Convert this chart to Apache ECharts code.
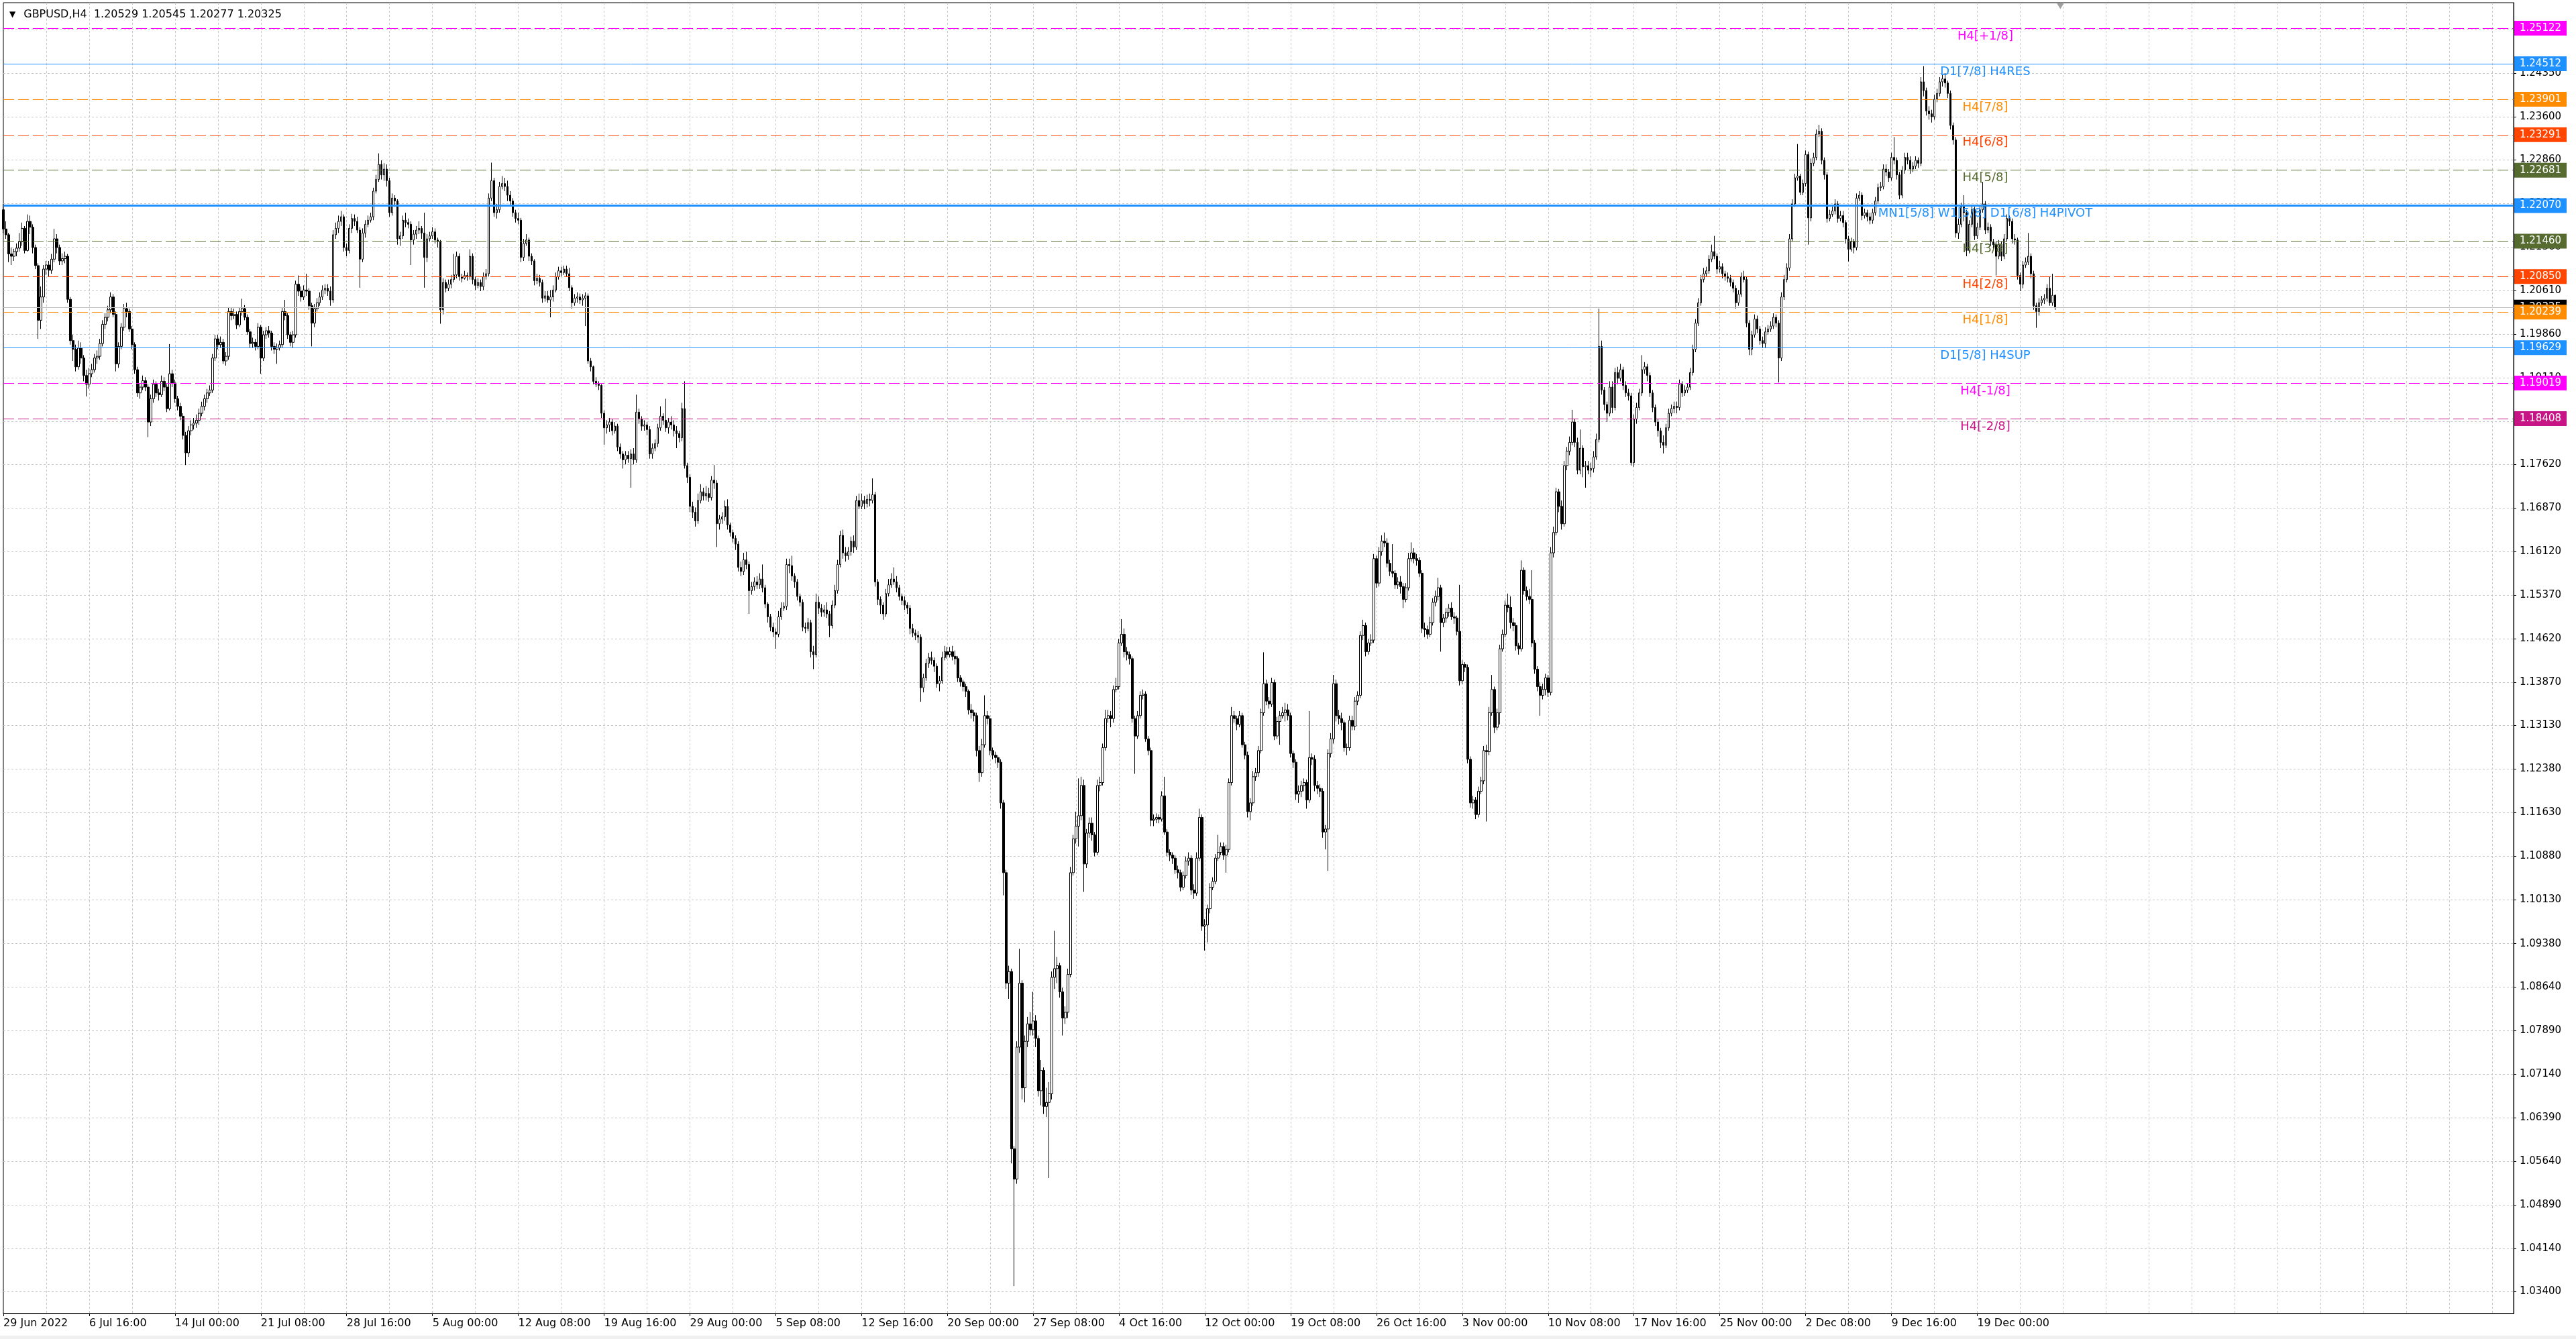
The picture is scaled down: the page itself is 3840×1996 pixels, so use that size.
<!DOCTYPE html>
<html><head><meta charset="utf-8">
<script src="https://cdn.jsdelivr.net/npm/echarts@6/dist/echarts.min.js"></script>
<style>html,body{margin:0;padding:0;background:#fff;overflow:hidden}#chart{width:3840px;height:1996px}</style>
</head><body><div id="chart"></div>
<script>
// ---------------- DATA ----------------
const symbolName = 'GBPUSD';
const timeframe = 'H4';
const PRICE_UNIT = 10000; // candle rows below are [open, high, low, close] in 1/10000 units
const barsJun29toJul28 = [
[12200,12210,12160,12167],[12167,12180,12150,12157],[12157,12160,12110,12124],[12124,12135,12105,12120],[12120,12133,12112,12128],[12128,12142,12120,12134],[12134,12160,12128,12145],[12145,12178,12138,12168],[12168,12172,12125,12130],[12130,12192,12128,12180],
[12180,12190,12158,12170],[12170,12175,12125,12135],[12135,12140,12098,12104],[12104,12108,11978,12010],[12010,12068,11995,12050],[12050,12105,12040,12098],[12098,12112,12088,12105],[12105,12112,12085,12096],[12096,12124,12090,12115],[12115,12167,12110,12150],
[12150,12158,12125,12135],[12135,12140,12105,12112],[12112,12125,12105,12116],[12116,12128,12108,12120],[12120,12124,12040,12046],[12046,12050,11968,11975],[11975,11985,11940,11960],[11960,11968,11922,11930],[11930,11975,11925,11962],[11962,11972,11935,11945],
[11945,11950,11905,11915],[11915,11925,11879,11900],[11900,11928,11892,11918],[11918,11935,11912,11925],[11925,11952,11920,11945],[11945,11958,11935,11948],[11948,11978,11942,11970],[11970,12010,11965,12003],[12003,12022,11995,12015],[12015,12035,12008,12028],
[12028,12058,12022,12050],[12050,12055,12015,12020],[12020,12025,11922,11935],[11935,11972,11928,11965],[11965,12005,11960,11998],[11998,12038,11992,12030],[12030,12040,12015,12025],[12025,12030,11990,11995],[11995,12000,11960,11968],[11968,11972,11918,11925],
[11925,11930,11878,11885],[11885,11902,11875,11895],[11895,11915,11890,11906],[11906,11912,11888,11895],[11895,11900,11809,11835],[11835,11882,11828,11875],[11875,11908,11868,11900],[11900,11905,11878,11885],[11885,11892,11872,11882],[11882,11915,11878,11905],
[11905,11912,11888,11895],[11895,11900,11852,11858],[11858,11969,11855,11918],[11918,11925,11895,11902],[11902,11908,11868,11875],[11875,11880,11855,11862],[11862,11868,11838,11845],[11845,11850,11805,11812],[11812,11818,11761,11782],[11782,11828,11775,11820],
[11820,11838,11812,11830],[11830,11842,11822,11833],[11833,11848,11825,11838],[11838,11858,11830,11850],[11850,11870,11845,11862],[11862,11882,11855,11875],[11875,11892,11868,11885],[11885,11898,11880,11890],[11890,11952,11885,11945],[11945,11985,11940,11978],
[11978,11985,11960,11968],[11968,11982,11962,11972],[11972,11978,11935,11940],[11940,11955,11932,11948],[11948,12032,11942,12025],[12025,12032,12010,12018],[12018,12030,12012,12020],[12020,12025,11995,12002],[12002,12032,11998,12025],[12025,12047,12018,12030],
[12030,12036,12010,12015],[12015,12020,11985,11990],[11990,11995,11962,11970],[11970,11980,11962,11972],[11972,11978,11958,11965],[11965,12005,11960,11998],[11998,12002,11918,11945],[11945,11992,11940,11985],[11985,11998,11978,11992],[11992,12000,11980,11988],
[11988,11992,11958,11965],[11965,11972,11952,11960],[11960,11970,11935,11963],[11963,11975,11958,11968],[11968,12032,11962,12025],[12025,12045,12010,12018],[12018,12022,11978,11985],[11985,11990,11965,11972],[11972,11992,11962,11985],[11985,12078,11980,12072],
[12072,12087,12052,12060],[12060,12068,12042,12050],[12050,12070,12045,12062],[12062,12090,12052,12060],[12060,12065,12028,12035],[12035,12040,11965,12005],[12005,12038,11998,12030],[12030,12048,12025,12040],[12040,12058,12035,12050],[12050,12070,12045,12062],
[12062,12072,12055,12065],[12065,12072,12052,12060],[12060,12068,12035,12045],[12045,12165,12040,12157],[12157,12178,12150,12168],[12168,12190,12160,12180],[12180,12198,12172,12188],[12188,12192,12128,12135]
];
const barsJul28toAug29 = [
[12135,12142,12120,12130],[12130,12175,12125,12168],[12168,12193,12160,12185],[12185,12192,12172,12180],[12180,12188,12160,12165],[12165,12170,12066,12115],[12115,12168,12110,12160],[12160,12182,12152,12175],[12175,12190,12170,12182],[12182,12195,12178,12188],
[12188,12238,12182,12232],[12232,12260,12228,12252],[12252,12297,12248,12278],[12278,12285,12252,12260],[12260,12280,12250,12270],[12270,12278,12240,12250],[12250,12255,12188,12195],[12195,12228,12190,12220],[12220,12225,12205,12215],[12215,12218,12140,12150],
[12150,12162,12138,12155],[12155,12190,12150,12182],[12182,12195,12170,12178],[12178,12185,12168,12175],[12175,12180,12105,12148],[12148,12165,12140,12158],[12158,12172,12150,12165],[12165,12180,12158,12168],[12168,12172,12150,12160],[12160,12195,12066,12118],
[12118,12158,12110,12150],[12150,12162,12145,12155],[12155,12170,12150,12162],[12162,12168,12142,12148],[12148,12152,12135,12145],[12145,12148,12004,12028],[12028,12082,12020,12075],[12075,12080,12058,12065],[12065,12080,12060,12072],[12072,12088,12065,12080],
[12080,12124,12075,12088],[12088,12128,12082,12120],[12120,12125,12078,12085],[12085,12090,12075,12082],[12082,12095,12080,12087],[12087,12092,12078,12085],[12085,12132,12080,12120],[12120,12125,12072,12080],[12080,12085,12062,12070],[12070,12082,12065,12075],
[12075,12080,12060,12068],[12068,12092,12062,12085],[12085,12098,12080,12090],[12090,12228,12085,12220],[12220,12281,12215,12250],[12250,12255,12188,12195],[12195,12210,12185,12200],[12200,12248,12195,12240],[12240,12258,12235,12245],[12245,12255,12232,12240],
[12240,12250,12215,12225],[12225,12232,12208,12215],[12215,12220,12188,12195],[12195,12200,12178,12185],[12185,12195,12175,12182],[12182,12186,12110,12118],[12118,12150,12112,12142],[12142,12158,12138,12148],[12148,12152,12112,12120],[12120,12125,12105,12112],
[12112,12115,12070,12078],[12078,12090,12072,12082],[12082,12088,12068,12075],[12075,12080,12040,12048],[12048,12060,12042,12052],[12052,12060,12040,12045],[12045,12062,12015,12050],[12050,12070,12042,12062],[12062,12092,12058,12085],[12085,12102,12080,12095],
[12095,12102,12085,12092],[12092,12104,12088,12098],[12098,12104,12085,12090],[12090,12100,12060,12066],[12066,12070,12030,12040],[12040,12055,12035,12048],[12048,12058,12040,12050],[12050,12056,12038,12045],[12045,12055,12035,12048],[12048,12058,12000,12052],
[12052,12056,11935,11940],[11940,11945,11922,11930],[11930,11932,11900,11905],[11905,11912,11895,11900],[11900,11905,11890,11898],[11898,11900,11842,11850],[11850,11855,11796,11825],[11825,11838,11815,11830],[11830,11842,11818,11835],[11835,11840,11812,11820],
[11820,11835,11815,11828],[11828,11832,11785,11792],[11792,11798,11772,11780],[11780,11785,11755,11770],[11770,11785,11762,11778],[11778,11785,11765,11772],[11772,11788,11722,11780],[11780,11790,11762,11770],[11770,11882,11765,11852],[11852,11858,11832,11840],
[11840,11845,11820,11828],[11828,11838,11820,11830],[11830,11835,11812,11822],[11822,11828,11772,11780],[11780,11798,11772,11790],[11790,11805,11785,11798],[11798,11832,11792,11825],[11825,11862,11820,11845],[11845,11850,11830,11838],[11838,11875,11818,11825],
[11825,11842,11815,11835],[11835,11845,11822,11830],[11830,11838,11810,11820],[11820,11828,11790,11815],[11815,11820,11800,11808],[11808,11868,11802,11858],[11858,11905,11755,11760],[11760,11765,11730,11740]
];
const barsAug29toSep27 = [
[11740,11745,11680,11690],[11690,11698,11670,11680],[11680,11688,11655,11665],[11665,11712,11660,11700],[11700,11728,11695,11715],[11715,11722,11700,11708],[11708,11725,11700,11712],[11712,11722,11698,11705],[11705,11742,11700,11735],[11735,11761,11720,11730],
[11730,11735,11620,11660],[11660,11675,11650,11668],[11668,11680,11660,11672],[11672,11700,11665,11690],[11690,11702,11650,11658],[11658,11662,11638,11645],[11645,11650,11628,11635],[11635,11640,11615,11625],[11625,11630,11578,11585],[11585,11595,11570,11578],
[11578,11610,11572,11598],[11598,11612,11582,11590],[11590,11595,11505,11545],[11545,11560,11538,11552],[11552,11568,11545,11560],[11560,11570,11548,11555],[11555,11575,11548,11565],[11565,11590,11542,11550],[11550,11555,11515,11522],[11522,11525,11490,11500],
[11500,11505,11475,11482],[11482,11490,11465,11474],[11474,11480,11445,11470],[11470,11510,11465,11500],[11500,11525,11495,11515],[11515,11525,11510,11518],[11518,11600,11512,11590],[11590,11600,11575,11588],[11588,11605,11562,11570],[11570,11575,11550,11560],
[11560,11565,11528,11535],[11535,11540,11518,11525],[11525,11530,11475,11482],[11482,11490,11472,11480],[11480,11498,11475,11490],[11490,11495,11430,11440],[11440,11450,11410,11435],[11435,11540,11430,11525],[11525,11535,11505,11515],[11515,11522,11500,11508],
[11508,11520,11500,11512],[11512,11525,11498,11505],[11505,11510,11465,11485],[11485,11528,11480,11520],[11520,11555,11515,11545],[11545,11598,11540,11590],[11590,11648,11585,11640],[11640,11650,11600,11610],[11610,11620,11595,11605],[11605,11620,11598,11612],
[11612,11638,11605,11630],[11630,11640,11610,11620],[11620,11708,11615,11700],[11700,11712,11685,11690],[11690,11712,11685,11700],[11700,11708,11685,11695],[11695,11710,11688,11702],[11702,11712,11690,11700],[11700,11738,11695,11710],[11710,11715,11552,11560],
[11560,11565,11520,11530],[11530,11535,11505,11520],[11520,11525,11495,11505],[11505,11548,11500,11540],[11540,11565,11535,11555],[11555,11575,11550,11565],[11565,11585,11555,11560],[11560,11570,11542,11550],[11550,11555,11528,11535],[11535,11540,11520,11528],
[11528,11535,11512,11520],[11520,11525,11505,11515],[11515,11520,11470,11480],[11480,11488,11465,11472],[11472,11478,11460,11468],[11468,11475,11455,11465],[11465,11470,11354,11378],[11378,11402,11370,11395],[11395,11428,11390,11420],[11420,11438,11412,11430],
[11430,11440,11418,11425],[11425,11430,11405,11415],[11415,11420,11378,11385],[11385,11398,11372,11390],[11390,11440,11385,11430],[11430,11450,11425,11440],[11440,11448,11428,11435],[11435,11448,11430,11440],[11440,11450,11425,11432],[11432,11442,11418,11428],
[11428,11432,11388,11395],[11395,11400,11380,11388],[11388,11392,11372,11380],[11380,11385,11362,11372],[11372,11375,11332,11340],[11340,11350,11325,11335],[11335,11340,11320,11330],[11330,11335,11260,11270],[11270,11278,11216,11232],[11232,11290,11225,11280],
[11280,11365,11275,11330],[11330,11338,11315,11325],[11325,11330,11262,11270],[11270,11275,11255,11262],[11262,11268,11248,11258],[11258,11262,11240,11250],[11250,11255,11170,11180],[11180,11185,11021,11060],[11060,11065,10860,10870],[10870,10900,10843,10890],
[10890,10895,10560,10585],[10585,10590,10349,10533],[10533,10770,10525,10760],[10760,10929,10750,10870],[10870,10875,10670,10690],[10690,10780,10665,10770],[10770,10812,10760,10800],[10800,10820,10780,10790]
];
const barsSep27toOct26 = [
[10790,10855,10780,10805],[10805,10815,10760,10775],[10775,10780,10675,10685],[10685,10738,10660,10720],[10720,10725,10645,10658],[10658,10690,10640,10665],[10665,10700,10535,10680],[10680,10890,10670,10880],[10880,10960,10860,10895],[10895,10915,10870,10900],
[10900,10905,10845,10855],[10855,10862,10780,10810],[10810,10830,10800,10820],[10820,10895,10810,10885],[10885,11070,10880,11060],[11060,11125,11055,11118],[11118,11165,11110,11140],[11140,11222,11105,11158],[11158,11225,11150,11210],[11210,11220,11027,11075],
[11075,11135,11068,11128],[11128,11155,11120,11145],[11145,11155,11115,11125],[11125,11130,11088,11095],[11095,11220,11090,11210],[11210,11225,11200,11215],[11215,11282,11210,11275],[11275,11340,11270,11325],[11325,11340,11318,11330],[11330,11338,11310,11325],
[11325,11382,11318,11375],[11375,11395,11370,11380],[11380,11462,11375,11455],[11455,11496,11450,11470],[11470,11480,11430,11440],[11440,11448,11425,11435],[11435,11440,11418,11428],[11428,11432,11318,11325],[11325,11330,11230,11295],[11295,11338,11290,11330],
[11330,11372,11325,11365],[11365,11375,11358,11367],[11367,11372,11285,11290],[11290,11295,11262,11270],[11270,11275,11140,11150],[11150,11160,11140,11152],[11152,11162,11145,11155],[11155,11160,11145,11152],[11152,11200,11148,11192],[11192,11225,11125,11130],
[11130,11135,11088,11095],[11095,11100,11080,11090],[11090,11095,11075,11085],[11085,11090,11058,11065],[11065,11072,11050,11060],[11060,11065,11028,11035],[11035,11062,11030,11055],[11055,11088,11050,11080],[11080,11095,11072,11085],[11085,11090,11022,11030],
[11030,11040,11015,11025],[11025,11095,11020,11085],[11085,11170,11080,11155],[11155,11160,10960,10968],[10968,10980,10926,10970],[10970,11005,10940,10998],[10998,11042,10990,11035],[11035,11052,11030,11045],[11045,11092,11040,11085],[11085,11125,11080,11095],
[11095,11112,11090,11105],[11105,11112,11082,11090],[11090,11108,11060,11100],[11100,11222,11095,11215],[11215,11345,11210,11330],[11330,11338,11318,11325],[11325,11330,11305,11315],[11315,11338,11310,11330],[11330,11335,11275,11280],[11280,11285,11255,11262],
[11262,11268,11155,11165],[11165,11188,11150,11180],[11180,11235,11175,11225],[11225,11240,11218,11232],[11232,11278,11225,11270],[11270,11342,11265,11335],[11335,11439,11330,11385],[11385,11392,11348,11355],[11355,11362,11342,11350],[11350,11395,11345,11387],
[11387,11392,11288,11295],[11295,11328,11290,11320],[11320,11338,11280,11330],[11330,11345,11325,11335],[11335,11352,11320,11340],[11340,11350,11322,11330],[11330,11335,11258,11265],[11265,11270,11240,11250],[11250,11255,11185,11195],[11195,11210,11180,11200],
[11200,11218,11190,11210],[11210,11222,11200,11215],[11215,11220,11170,11185],[11185,11338,11180,11258],[11258,11265,11245,11255],[11255,11262,11200,11210],[11210,11218,11195,11205],[11205,11212,11190,11200],[11200,11205,11120,11130],[11130,11142,11100,11135],
[11135,11272,11063,11265],[11265,11300,11258,11290],[11290,11400,11282,11385],[11385,11392,11320,11330],[11330,11340,11315,11325],[11325,11335,11305,11318],[11318,11322,11268,11275],[11275,11282,11262,11275],[11275,11330,11270,11322],[11322,11330,11305,11312],
[11312,11362,11305,11355],[11355,11372,11348,11365],[11365,11475,11360,11468],[11468,11495,11460,11485],[11485,11490,11432,11440],[11440,11462,11435,11455],[11455,11470,11450,11460],[11460,11608,11455,11600]
];
const barsOct26toNov25 = [
[11600,11605,11550,11558],[11558,11620,11552,11612],[11612,11640,11605,11630],[11630,11645,11620,11627],[11627,11635,11585,11592],[11592,11598,11570,11578],[11578,11625,11568,11575],[11575,11580,11548,11555],[11555,11568,11548,11560],[11560,11570,11540,11552],
[11552,11558,11515,11530],[11530,11558,11525,11550],[11550,11610,11545,11600],[11600,11628,11595,11610],[11610,11618,11592,11600],[11600,11608,11588,11597],[11597,11603,11568,11575],[11575,11580,11472,11480],[11480,11490,11465,11478],[11478,11485,11462,11470],
[11470,11500,11465,11490],[11490,11532,11485,11525],[11525,11545,11518,11535],[11535,11567,11528,11550],[11550,11555,11440,11490],[11490,11505,11482,11498],[11498,11515,11490,11508],[11508,11522,11500,11515],[11515,11525,11495,11500],[11500,11508,11488,11498],
[11498,11502,11468,11475],[11475,11555,11382,11390],[11390,11425,11385,11418],[11418,11422,11405,11413],[11413,11418,11248,11255],[11255,11260,11172,11180],[11180,11192,11170,11185],[11185,11190,11152,11160],[11160,11208,11155,11200],[11200,11225,11195,11218],
[11218,11278,11212,11270],[11270,11280,11148,11268],[11268,11345,11262,11335],[11335,11400,11330,11375],[11375,11380,11300,11310],[11310,11342,11305,11335],[11335,11452,11315,11445],[11445,11478,11440,11470],[11470,11528,11465,11520],[11520,11540,11508,11516],
[11516,11535,11480,11490],[11490,11498,11475,11485],[11485,11490,11442,11450],[11450,11455,11435,11445],[11445,11597,11440,11580],[11580,11585,11538,11545],[11545,11552,11528,11535],[11535,11548,11522,11530],[11530,11580,11448,11455],[11455,11460,11402,11410],
[11410,11415,11372,11380],[11380,11388,11330,11365],[11365,11385,11358,11375],[11375,11402,11365,11395],[11395,11400,11362,11370],[11370,11620,11365,11610],[11610,11655,11602,11645],[11645,11722,11640,11715],[11715,11720,11680,11690],[11690,11700,11650,11660],
[11660,11768,11655,11760],[11760,11792,11752,11785],[11785,11810,11778,11800],[11800,11856,11795,11835],[11835,11840,11792,11800],[11800,11808,11745,11752],[11752,11822,11745,11790],[11790,11795,11740,11758],[11758,11768,11722,11760],[11760,11768,11745,11752],
[11752,11765,11740,11755],[11755,11785,11748,11775],[11775,11815,11770,11805],[11805,12030,11800,11965],[11965,11975,11882,11890],[11890,11895,11855,11865],[11865,11870,11835,11850],[11850,11905,11845,11895],[11895,11905,11850,11860],[11860,11928,11855,11920],
[11920,11930,11900,11910],[11910,11935,11905,11925],[11925,11930,11890,11898],[11898,11905,11878,11885],[11885,11892,11872,11880],[11880,11885,11760,11765],[11765,11848,11758,11840],[11840,11868,11832,11860],[11860,11892,11855,11885],[11885,11950,11880,11925],
[11925,11938,11918,11930],[11930,11935,11905,11915],[11915,11920,11878,11885],[11885,11890,11852,11860],[11860,11865,11828,11835],[11835,11840,11810,11820],[11820,11825,11790,11800],[11800,11812,11781,11795],[11795,11832,11790,11825],[11825,11858,11820,11850],
[11850,11865,11845,11858],[11858,11870,11850,11862],[11862,11870,11850,11860],[11860,11908,11855,11900],[11900,11905,11878,11885],[11885,11898,11880,11890],[11890,11902,11885,11895],[11895,11928,11890,11920],[11920,11968,11915,11960],[11960,12012,11955,12005],
[12005,12048,12000,12040],[12040,12088,12035,12080],[12080,12100,12075,12090],[12090,12102,12085,12095],[12095,12122,12090,12115],[12115,12140,12110,12128],[12128,12155,12115,12120],[12120,12125,12090,12098]
];
const barsNov25toDec22 = [
[12098,12112,12092,12102],[12102,12108,12082,12090],[12090,12095,12078,12085],[12085,12092,12075,12082],[12082,12088,12068,12075],[12075,12080,12058,12065],[12065,12070,12030,12040],[12040,12062,12035,12055],[12055,12092,12050,12085],[12085,12095,12075,12080],
[12080,12085,11998,12005],[12005,12010,11950,11960],[11960,11992,11950,11985],[11985,12020,11980,12012],[12012,12018,11988,11995],[11995,12000,11968,11975],[11975,11982,11962,11970],[11970,11998,11962,11990],[11990,12002,11985,11995],[11995,12008,11990,12000],
[12000,12022,11995,12015],[12015,12020,11998,12005],[12005,12010,11903,11945],[11945,12058,11940,12050],[12050,12088,12045,12080],[12080,12108,12075,12100],[12100,12158,12095,12150],[12150,12218,12145,12210],[12210,12262,12205,12255],[12255,12313,12250,12258],
[12258,12262,12225,12230],[12230,12252,12225,12245],[12245,12302,12240,12295],[12295,12300,12140,12186],[12186,12288,12180,12280],[12280,12298,12275,12290],[12290,12338,12285,12330],[12330,12346,12325,12335],[12335,12340,12278,12285],[12285,12290,12252,12260],
[12260,12265,12178,12185],[12185,12200,12180,12192],[12192,12205,12188,12198],[12198,12218,12192,12210],[12210,12215,12178,12185],[12185,12198,12180,12190],[12190,12198,12170,12178],[12178,12182,12142,12150],[12150,12155,12111,12132],[12132,12152,12128,12145],
[12145,12150,12125,12135],[12135,12228,12130,12220],[12220,12232,12215,12225],[12225,12230,12182,12190],[12190,12202,12185,12195],[12195,12200,12180,12188],[12188,12195,12175,12182],[12182,12202,12176,12195],[12195,12222,12190,12215],[12215,12245,12210,12238],
[12238,12248,12232,12240],[12240,12278,12235,12270],[12270,12278,12258,12265],[12265,12270,12248,12255],[12255,12298,12250,12290],[12290,12325,12278,12285],[12285,12290,12252,12260],[12260,12265,12218,12225],[12225,12275,12220,12268],[12268,12298,12262,12290],
[12290,12298,12278,12285],[12285,12292,12262,12270],[12270,12282,12265,12275],[12275,12292,12270,12285],[12285,12290,12272,12280],[12280,12428,12275,12420],[12420,12447,12395,12405],[12405,12410,12362,12370],[12370,12378,12355,12365],[12365,12372,12350,12360],
[12360,12398,12355,12390],[12390,12408,12385,12400],[12400,12428,12395,12420],[12420,12432,12412,12425],[12425,12435,12410,12418],[12418,12422,12392,12400],[12400,12405,12338,12345],[12345,12350,12312,12320],[12320,12325,12152,12160],[12160,12185,12150,12175],
[12175,12212,12170,12205],[12205,12225,12180,12195],[12195,12200,12120,12130],[12130,12182,12125,12175],[12175,12208,12170,12200],[12200,12205,12148,12155],[12155,12178,12150,12170],[12170,12208,12165,12200],[12200,12248,12195,12210],[12210,12215,12158,12165],
[12165,12178,12160,12170],[12170,12175,12138,12145],[12145,12150,12132,12140],[12140,12145,12087,12120],[12120,12148,12115,12140],[12140,12145,12112,12120],[12120,12158,12115,12150],[12150,12192,12145,12185],[12185,12190,12172,12180],[12180,12185,12142,12150],
[12150,12158,12140,12148],[12148,12152,12080,12087],[12087,12092,12060,12072],[12072,12112,12065,12105],[12105,12118,12100,12110],[12110,12160,12105,12120],[12120,12125,12082,12090],[12090,12095,12028,12035],[12035,12040,11997,12025],[12025,12048,12018,12040],
[12040,12052,12035,12045],[12045,12055,12038,12048],[12048,12072,12042,12065],[12065,12085,12035,12040],[12040,12090,12035,12052.9],[12052.9,12054.5,12027.7,12032.5]
];
const dateLabels = ['29 Jun 2022','6 Jul 16:00','14 Jul 00:00','21 Jul 08:00','28 Jul 16:00','5 Aug 00:00','12 Aug 08:00','19 Aug 16:00','29 Aug 00:00','5 Sep 08:00','12 Sep 16:00','20 Sep 00:00','27 Sep 08:00','4 Oct 16:00','12 Oct 00:00','19 Oct 08:00','26 Oct 16:00','3 Nov 00:00','10 Nov 08:00','17 Nov 16:00','25 Nov 00:00','2 Dec 08:00','9 Dec 16:00','19 Dec 00:00'];
const barsPerDateLabel = 32;
const barsPerGridLine = 16;
const totalSlots = 937; // bar slots visible across the chart width (data fills the first part)
const priceTicks = [1.03400,1.04140,1.04890,1.05640,1.06390,1.07140,1.07890,1.08640,1.09380,1.10130,1.10880,1.11630,1.12380,1.13130,1.13870,1.14620,1.15370,1.16120,1.16870,1.17620,1.18360,1.19110,1.19860,1.20610,1.21360,1.22110,1.22860,1.23600,1.24350,1.25100];
const priceMin = 1.03019, priceMax = 1.25561;
const levelValues = [1.25122,1.24512,1.23901,1.23291,1.22681,1.22070,1.21460,1.20850,1.20239,1.19629,1.19019,1.18408];
const levelNames = ['H4[+1/8]','D1[7/8] H4RES','H4[7/8]','H4[6/8]','H4[5/8]','MN1[5/8] W1[5/8] D1[6/8] H4PIVOT','H4[3/8]','H4[2/8]','H4[1/8]','D1[5/8] H4SUP','H4[-1/8]','H4[-2/8]'];
const levelNameSlot = 739;
const currentBid = 1.20325;

// ---------------- STYLES ----------------
const levelColors = ['#FF00FF','#1E90FF','#FF8C00','#FF4500','#556B2F','#1E90FF','#556B2F','#FF4500','#FF8C00','#1E90FF','#FF00FF','#C71585'];
const levelSolid  = [false,true,false,false,false,true,false,false,false,true,false,false];
const levelWidth  = [1,1,1,1,1,3,1,1,1,1,1,1];
const FONT = 'DejaVu Sans';

// ---------------- BUILD ----------------
const rows = [].concat(barsJun29toJul28, barsJul28toAug29, barsAug29toSep27, barsSep27toOct26, barsOct26toNov25, barsNov25toDec22);
const candleData = rows.map(r => [r[0]/PRICE_UNIT, r[3]/PRICE_UNIT, r[2]/PRICE_UNIT, r[1]/PRICE_UNIT]);
const slots = Array.from({length: totalSlots}, (_, i) => String(i));
const last = rows[rows.length - 1];
const headerText = symbolName + ',' + timeframe + '  ' + last.map(v => (v/PRICE_UNIT).toFixed(5)).join(' ');

const boxLabel = (v, color) => ({
  show: true, position: 'end', distance: 1,
  formatter: () => v.toFixed(5),
  color: '#fff', backgroundColor: color, padding: [3, 8, 3, 8],
  fontSize: 15, fontFamily: FONT, lineHeight: 16
});

const markLineData = [{
  yAxis: currentBid,
  lineStyle: {color: '#C0C0C0', type: 'solid', width: 1},
  label: boxLabel(currentBid, '#000000')
}].concat(levelValues.map((v, i) => ({
  yAxis: v,
  lineStyle: {color: levelColors[i], type: levelSolid[i] ? 'solid' : [16, 6], width: levelWidth[i]},
  label: boxLabel(v, levelColors[i])
})));

const markPointData = levelValues.map((v, i) => ({
  coord: [String(levelNameSlot), v],
  symbol: 'rect', symbolSize: 1,
  itemStyle: {color: 'rgba(0,0,0,0)'},
  label: {show: true, position: 'inside', offset: [0, 12], formatter: levelNames[i],
          color: levelColors[i], fontSize: 18, fontFamily: FONT}
}));
markPointData.push({
  coord: [String(rows.length + 1), priceMax],
  symbol: 'triangle', symbolRotate: 180, symbolSize: [11, 9], symbolOffset: [0, 5],
  itemStyle: {color: '#A0A0A0'}, label: {show: false}
});

const chart = echarts.init(document.getElementById('chart'), null, {renderer: 'canvas'});
chart.setOption({
  animation: false,
  backgroundColor: '#ffffff',
  textStyle: {fontFamily: FONT},
  title: {
    left: 9, top: 9,
    text: '{t|▼}' + headerText,
    textStyle: {fontSize: 16, fontWeight: 'normal', color: '#000', fontFamily: FONT,
      rich: {t: {fontSize: 12, color: '#000', padding: [0, 12, 0, 0], fontFamily: FONT}}}
  },
  grid: {left: 5, top: 4, right: 93, bottom: 38, show: true, borderColor: '#000', borderWidth: 1, backgroundColor: '#fff'},
  xAxis: {
    type: 'category', data: slots, boundaryGap: false,
    axisLine: {show: true, lineStyle: {color: '#000', width: 1}},
    axisTick: {show: true, length: 4, alignWithLabel: true, lineStyle: {color: '#000'},
      interval: (i) => i % barsPerDateLabel === 0 && i / barsPerDateLabel < dateLabels.length},
    axisLabel: {show: true, align: 'left', margin: 7, fontSize: 16, color: '#000', fontFamily: FONT,
      interval: (i) => i % barsPerDateLabel === 0 && i / barsPerDateLabel < dateLabels.length,
      formatter: (val, i) => dateLabels[Math.round(Number(val) / barsPerDateLabel)] || ''},
    splitLine: {show: true, interval: (i) => i > 0 && i % barsPerGridLine === 0,
      lineStyle: {color: '#C8C8C8', type: [3, 3], width: 1}}
  },
  yAxis: {
    type: 'value', position: 'right', min: priceMin, max: priceMax, scale: true,
    axisLine: {show: true, lineStyle: {color: '#000', width: 1}},
    axisTick: {show: true, length: 4, lineStyle: {color: '#000'}, customValues: priceTicks},
    axisLabel: {show: true, margin: 9, fontSize: 15, color: '#000', fontFamily: FONT,
      customValues: priceTicks, formatter: (v) => Number(v).toFixed(5)},
    splitLine: {show: true, lineStyle: {color: '#C8C8C8', type: [3, 3], width: 1}}
  },
  series: [{
    type: 'candlestick', data: candleData, barWidth: 3, large: false, progressive: 0,
    itemStyle: {color: '#FFFFFF', color0: '#000000', borderColor: '#000000', borderColor0: '#000000', borderWidth: 1},
    markLine: {silent: true, symbol: ['none', 'none'], animation: false, precision: 5, data: markLineData},
    markPoint: {silent: true, animation: false, data: markPointData}
  }],
  graphic: [{type: 'rect', left: 0, top: 1991, shape: {width: 3840, height: 5}, style: {fill: '#F0F0F0'}, silent: true}]
});
</script></body></html>
